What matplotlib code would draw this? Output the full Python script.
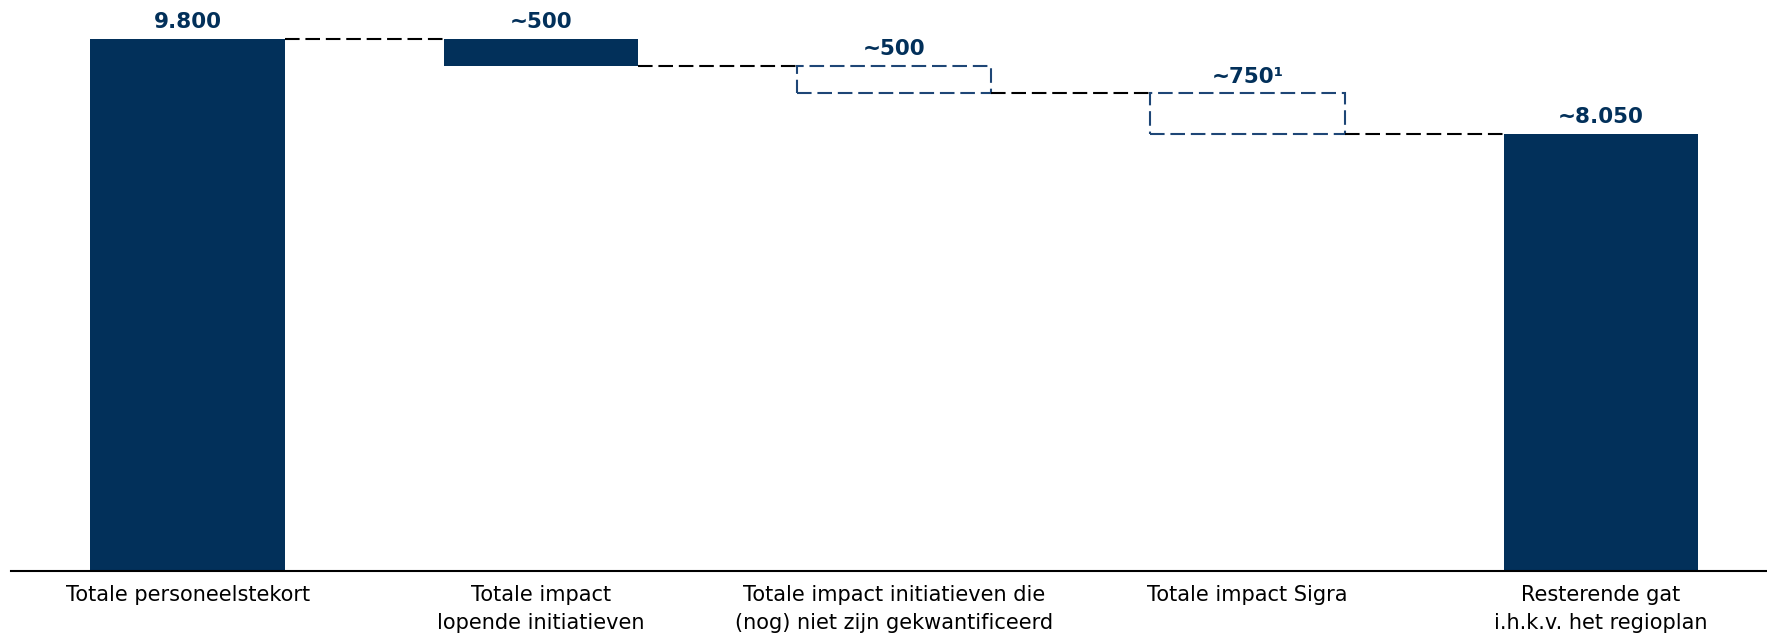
import matplotlib.pyplot as plt
import numpy as np

categorieen = ["Totale personeelstekort",
               "Totale impact\nlopende initiatieven",
               "Totale impact initiatieven die\n(nog) niet zijn gekwantificeerd",
               "Totale impact Sigra",
               "Resterende gat\ni.h.k.v. het regioplan"]
waarden = [9800, -500, -500, -750, 8050]
labels = ["9.800", "~500", "~500", "~750¹", "~8.050"]
gestippeld = [False, False, True, True, False]

navy = '#02305A'
box_kleur = '#1E4676'

plt.rcParams['font.family'] = ['DejaVu Sans']

fig = plt.figure(figsize=(17.67, 6.38), dpi=100)
ax = fig.add_axes([11 / 1767, 67 / 638, 1756 / 1767, 571 / 638])

x = np.arange(len(waarden))
breedte = 0.55

# bodems en toppen van de watervalbalken
bodems = []
hoogtes = []
stand = 0
for i, w in enumerate(waarden):
    if i == 0 or i == len(waarden) - 1:
        bodems.append(0)
        hoogtes.append(w)
        stand = w
    else:
        bodems.append(stand + w)
        hoogtes.append(-w)
        stand = stand + w

for i in range(len(waarden)):
    if gestippeld[i]:
        ax.bar(x[i], hoogtes[i], bottom=bodems[i], width=breedte, fill=False,
               edgecolor=box_kleur, linewidth=1.5, linestyle=(0, (7, 2.8)))
    else:
        ax.bar(x[i], hoogtes[i], bottom=bodems[i], width=breedte, color=navy,
               edgecolor='none')
    top = bodems[i] + hoogtes[i]
    ax.annotate(labels[i], (x[i], top), xytext=(0, 5), textcoords='offset points',
                ha='center', va='bottom', fontsize=15.5, fontweight='bold', color=navy)

# verbindingslijnen
for i in range(len(waarden) - 1):
    if i == 0:
        niveau = bodems[0] + hoogtes[0]
    else:
        niveau = bodems[i]
    ax.plot([x[i] + breedte / 2, x[i + 1] - breedte / 2], [niveau, niveau],
            color='black', linewidth=1.5, dashes=(7, 2.8))

ax.set_xlim(-0.5, 4.47)
ax.set_ylim(0, 10523)
ax.set_xticks(x)
ax.set_xticklabels(categorieen, fontsize=15, linespacing=1.5)
ax.tick_params(axis='x', length=0, pad=10)
ax.set_yticks([])
for s in ['top', 'left', 'right']:
    ax.spines[s].set_visible(False)
ax.spines['bottom'].set_linewidth(1.5)
ax.spines['bottom'].set_color('black')

fig.savefig('out.png', dpi=100)
